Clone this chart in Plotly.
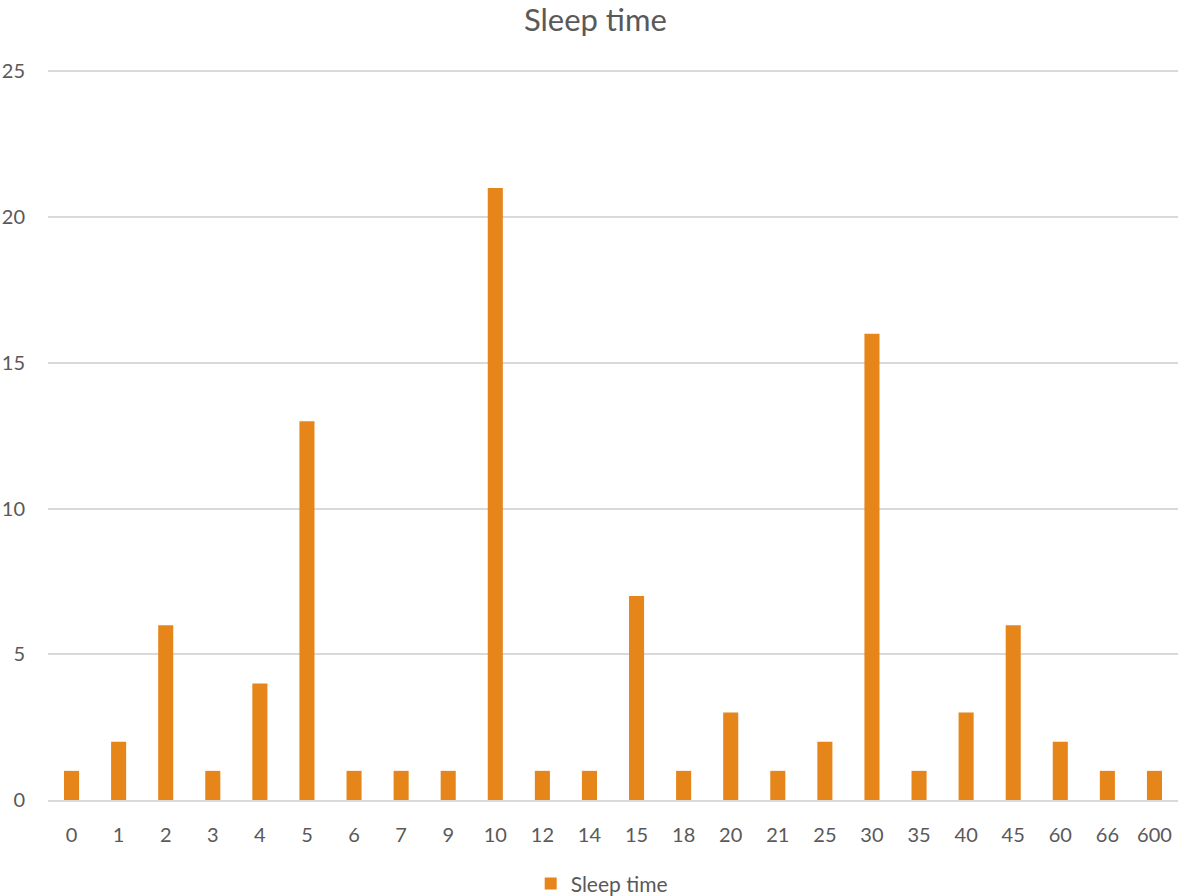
import plotly.graph_objects as go

# Sleep time (minutes) and how many respondents gave each value
categories = ["0", "1", "2", "3", "4", "5", "6", "7", "9", "10", "12", "14",
              "15", "18", "20", "21", "25", "30", "35", "40", "45", "60", "66", "600"]
counts = [1, 2, 6, 1, 4, 13, 1, 1, 1, 21, 1, 1,
          7, 1, 3, 1, 2, 16, 1, 3, 6, 2, 1, 1]

bar_color = "#E6861A"
text_color = "#595959"
grid_color = "#D9D9D9"

fig = go.Figure(
    go.Bar(
        x=categories,
        y=counts,
        name="Sleep time",
        marker=dict(color=bar_color, line=dict(width=0)),
        width=0.32,
    )
)

fig.update_layout(
    width=1179,
    height=896,
    margin=dict(l=48, r=1, t=70, b=96, autoexpand=False),
    paper_bgcolor="white",
    plot_bgcolor="white",
    font=dict(family="Lato, Open Sans, sans-serif", size=18, color=text_color),
    title=dict(
        text="Sleep time",
        x=0.505,
        xanchor="center",
        y=0.978,
        yanchor="middle",
        font=dict(size=31, color=text_color),
    ),
    showlegend=True,
    legend=dict(
        orientation="h",
        x=0.49,
        xanchor="center",
        y=-0.115,
        yanchor="middle",
        font=dict(size=21, color=text_color),
        itemwidth=30,
    ),
    bargap=0.68,
)

fig.update_xaxes(
    type="category",
    showgrid=False,
    showline=True,
    linecolor=grid_color,
    linewidth=1.5,
    ticks="",
    ticklabelstandoff=16,
    tickfont=dict(size=20, color=text_color),
)

fig.update_yaxes(
    range=[0, 25.05],
    dtick=5,
    showgrid=True,
    gridcolor=grid_color,
    gridwidth=1.5,
    zeroline=False,
    showline=False,
    ticks="",
    ticklabelstandoff=22,
    tickfont=dict(size=20, color=text_color),
)

fig.write_html("out.html")
